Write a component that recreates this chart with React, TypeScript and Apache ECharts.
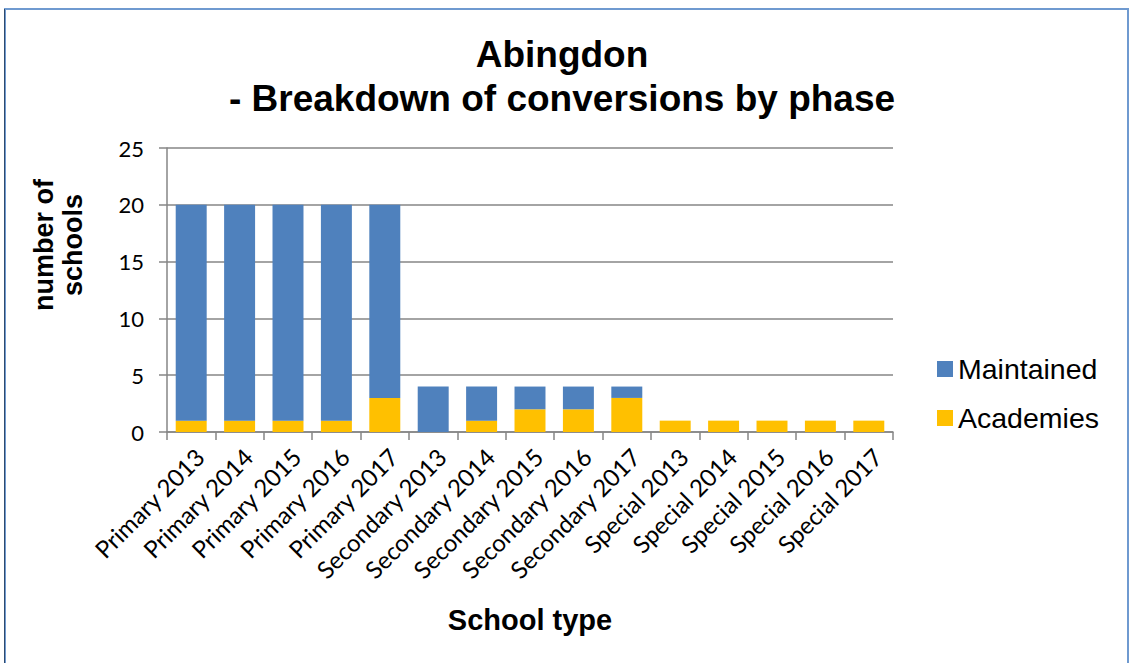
import React, { useEffect, useRef } from "react";
import * as echarts from "echarts";

const categories = [
  "Primary 2013", "Primary 2014", "Primary 2015", "Primary 2016", "Primary 2017",
  "Secondary 2013", "Secondary 2014", "Secondary 2015", "Secondary 2016", "Secondary 2017",
  "Special 2013", "Special 2014", "Special 2015", "Special 2016", "Special 2017",
];
const academies = [1, 1, 1, 1, 3, 0, 1, 2, 2, 3, 1, 1, 1, 1, 1];
const maintained = [19, 19, 19, 19, 17, 4, 3, 2, 2, 1, 0, 0, 0, 0, 0];
const yTicks = { min: 0, max: 25, interval: 5 };
const titleLines = ["Abingdon", "- Breakdown of conversions by phase"];
const xTitle = "School type";
const yTitle = "number of\nschools";

export default function App() {
  const ref = useRef<HTMLDivElement>(null);
  useEffect(() => {
    if (!ref.current) return;
    const chart = echarts.init(ref.current, null, { renderer: "svg" });
    const axisGray = "#868686";
    const tickFont = "Lato, 'Open Sans', sans-serif";
    const armFont = "'Liberation Sans', Arial, sans-serif";
    chart.setOption({
      animation: false,
      backgroundColor: "#ffffff",
      title: {
        text: titleLines.join("\n"),
        left: 557,
        top: 27,
        textAlign: "center",
        textStyle: { fontFamily: armFont, fontSize: 37, fontWeight: "bold", lineHeight: 44, color: "#000" },
      },
      legend: {
        orient: "vertical",
        left: 932,
        top: 348,
        data: ["Maintained", "Academies"],
        itemWidth: 16,
        itemHeight: 16,
        itemGap: 17,
        icon: "rect",
        textStyle: { fontFamily: armFont, fontSize: 28.5, color: "#000", lineHeight: 32 },
      },
      grid: { left: 167, right: 236, top: 148, bottom: 231, containLabel: false },
      xAxis: {
        type: "category",
        data: categories,
        name: xTitle,
        nameLocation: "middle",
        nameGap: 173,
        nameTextStyle: { fontFamily: armFont, fontSize: 29, fontWeight: "bold", color: "#000", verticalAlign: "top" },
        axisLine: { lineStyle: { color: axisGray, width: 1.5 } },
        axisTick: { show: true, length: 8, lineStyle: { color: axisGray, width: 1.5 } },
        axisLabel: {
          rotate: 45,
          fontFamily: tickFont,
          fontSize: 24,
          color: "#000",
          margin: 12,
          interval: 0,
          align: "right",
          verticalAlign: "top",
        },
      },
      yAxis: {
        type: "value",
        min: yTicks.min,
        max: yTicks.max,
        interval: yTicks.interval,
        axisLine: { show: true, lineStyle: { color: axisGray, width: 1.5 } },
        axisTick: { show: true, length: 8, lineStyle: { color: axisGray, width: 1.5 } },
        axisLabel: { fontFamily: tickFont, fontSize: 22, color: "#000", margin: 23 },
        splitLine: { show: true, lineStyle: { color: axisGray, width: 1.5 } },
      },
      graphic: [
        {
          type: "text",
          x: 58,
          y: 245,
          rotation: Math.PI / 2,
          style: {
            text: yTitle,
            fontFamily: armFont,
            fontSize: 27,
            fontWeight: "bold",
            lineHeight: 29,
            fill: "#000",
            align: "center",
            verticalAlign: "middle",
          },
        },
        {
          type: "rect",
          shape: { x: 5, y: 9, width: 1123, height: 700 },
          style: { fill: "none", stroke: "#6f9ad0", lineWidth: 2 },
          silent: true,
        },
        {
          type: "line",
          shape: { x1: 4.5, y1: 9, x2: 4.5, y2: 663 },
          style: { stroke: "#2f4a6e", lineWidth: 1 },
          silent: true,
        },
      ],
      series: [
        {
          name: "Academies",
          type: "bar",
          stack: "total",
          data: academies,
          barWidth: "64%",
          itemStyle: { color: "#FFC000" },
        },
        {
          name: "Maintained",
          type: "bar",
          stack: "total",
          data: maintained,
          barWidth: "64%",
          itemStyle: { color: "#4F81BD" },
        },
      ],
    });
    return () => chart.dispose();
  }, []);
  return (
    <div
      ref={ref}
      style={{ position: "fixed", left: 0, top: 0, width: 1129, height: 663 }}
    />
  );
}
